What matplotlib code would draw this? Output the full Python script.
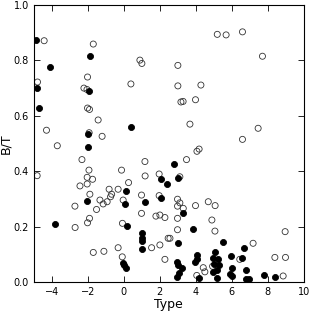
import matplotlib
matplotlib.use('Agg')
import matplotlib.pyplot as plt

# open circles (Type, B/T)
open_type = [-4.43, -4.80, -4.30, -3.70, -1.70, -2.02, -2.22, -2.05, -2.02, -1.91,
             -1.43, -1.93, -1.21, -2.33, 0.89, 1.00, 0.39, 1.17,
             5.19, 5.68, 6.59, 7.70, 3.00, 3.00, 4.28, 3.17, 3.29, 3.98, 3.67,
             7.46, 6.59, 4.06, 4.18, 3.48,
             -4.82, -1.94, -2.04, -1.74, -2.04, -2.44, -0.13, -0.82, -0.32, 0.26,
             -1.89, -0.68, -0.74, -0.93, -1.15, -1.33, -1.52, -0.04, -2.72,
             -2.02, -1.91, -2.71, -0.08, -1.70, -1.11, -0.32, -0.09, 1.18, 0.98, 0.98,
             1.54, 1.78, 2.00, 2.28, 2.46, 1.96, 1.96, 2.00, 2.28,
             3.11, 2.98, 3.11, 2.98, 3.30, 3.98, 4.69, 5.07, 2.98, 4.89,
             2.98, 5.06, 2.56, 4.41, 4.50, 4.05, 4.93,
             7.18, 6.44, 8.39, 8.98, 8.96, 8.85]
open_bt = [0.871, 0.722, 0.548, 0.492, 0.859, 0.740, 0.700, 0.695, 0.628, 0.623,
           0.585, 0.539, 0.526, 0.442, 0.801, 0.789, 0.715, 0.435,
           0.894, 0.892, 0.903, 0.815, 0.782, 0.708, 0.711, 0.650, 0.652, 0.658, 0.570,
           0.555, 0.515, 0.472, 0.480, 0.442,
           0.384, 0.404, 0.378, 0.371, 0.354, 0.347, 0.404, 0.335, 0.335, 0.359,
           0.317, 0.317, 0.308, 0.290, 0.282, 0.296, 0.262, 0.296, 0.274,
           0.214, 0.230, 0.197, 0.212, 0.107, 0.111, 0.124, 0.091, 0.383, 0.314, 0.248,
           0.124, 0.238, 0.134, 0.082, 0.158, 0.390, 0.312, 0.242, 0.233,
           0.380, 0.299, 0.286, 0.274, 0.266, 0.276, 0.290, 0.276, 0.230, 0.224,
           0.189, 0.184, 0.158, 0.052, 0.037, 0.024, 0.057,
           0.140, 0.082, 0.089, 0.089, 0.182, 0.022]

# filled circles (Type, B/T)
fill_type = [-4.91, -4.11, -4.82, -4.70, -1.91, -1.93, -2.02, -2.00, 0.39,
             -3.82, -2.04, 0.11, 0.06, 0.18, -0.04, 0.02, 0.11,
             0.98, 0.98, 0.98, 0.98, 1.18,
             2.78, 2.09, 2.37, 2.98, 2.09, 3.30, 3.85,
             2.98, 2.97, 3.02, 3.22, 3.06, 2.97,
             4.04, 4.09, 3.96, 4.15,
             5.48, 5.05, 4.97, 5.22, 5.28, 5.02, 5.18, 4.96, 5.18,
             5.96, 5.98, 5.90, 6.00,
             6.67, 6.57, 6.80, 6.78, 6.95, 7.78, 8.39]
fill_bt = [0.873, 0.777, 0.701, 0.629, 0.817, 0.691, 0.534, 0.488, 0.561,
           0.211, 0.294, 0.329, 0.282, 0.202, 0.070, 0.061, 0.049,
           0.176, 0.160, 0.148, 0.118, 0.290,
           0.426, 0.372, 0.353, 0.374, 0.302, 0.248, 0.191,
           0.142, 0.073, 0.061, 0.049, 0.034, 0.019,
           0.098, 0.085, 0.071, 0.015,
           0.146, 0.109, 0.087, 0.082, 0.062, 0.064, 0.045, 0.037, 0.016,
           0.093, 0.049, 0.028, 0.021,
           0.122, 0.086, 0.043, 0.012, 0.010, 0.025, 0.017]

fig = plt.figure(figsize=(3.11, 3.11), dpi=100)
ax = fig.add_axes([0.109, 0.093, 0.868, 0.891])

ax.scatter(open_type, open_bt, s=19, facecolors='none', edgecolors='#333333', linewidths=0.6)
ax.scatter(fill_type, fill_bt, s=19, c='black', edgecolors='black', linewidths=0.6)

ax.set_xlim(-5, 10)
ax.set_ylim(0, 1.0)
ax.set_xticks([-4, -2, 0, 2, 4, 6, 8, 10])
ax.set_yticks([0.0, 0.2, 0.4, 0.6, 0.8, 1.0])
ax.tick_params(direction='in', top=True, right=True, labelsize=7, length=4, width=0.6)
ax.set_xlabel('Type', fontsize=9, labelpad=1)
ax.set_ylabel('B/T', fontsize=9, labelpad=1)
for sp in ax.spines.values():
    sp.set_linewidth(0.8)

fig.savefig('out.png', dpi=100)
